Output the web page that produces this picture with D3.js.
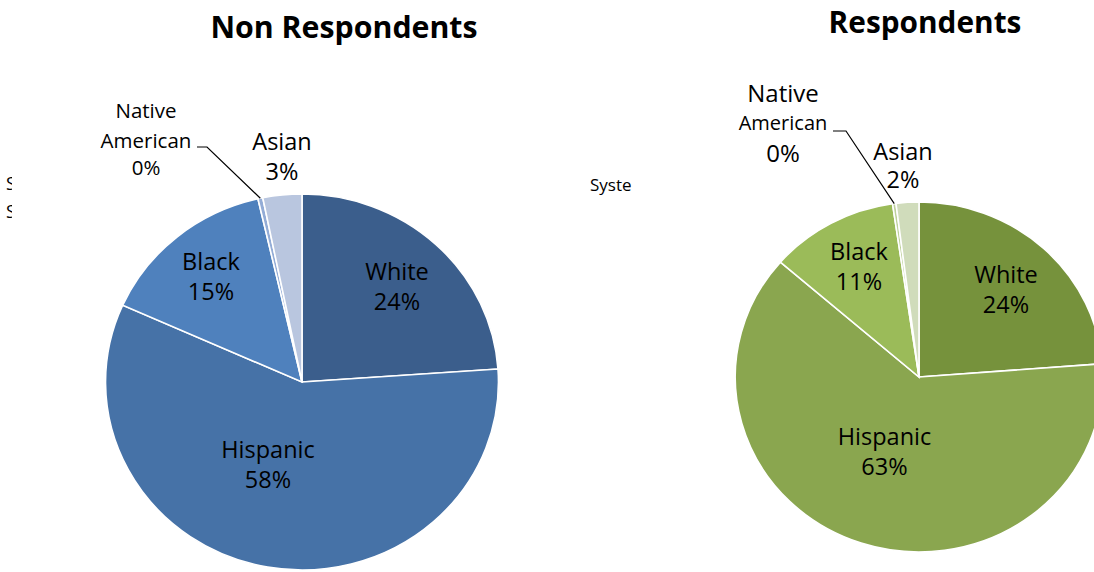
<!DOCTYPE html>
<html>
<head>
<meta charset="utf-8">
<script src="https://cdn.jsdelivr.net/npm/d3@7"></script>
<style>
  html, body { margin: 0; padding: 0; background: #fff; }
  svg { display: block; }
  text { font-family: "Open Sans", Lato, sans-serif; fill: #000; }
</style>
</head>
<body>
<svg id="chart" width="1094" height="572"></svg>
<script>
// Ethnic breakdown, percent of each group
const categories = ["White", "Hispanic", "Black", "Native American", "Asian"];
const nonRespondents = [23.9, 57.8, 14.7, 0.4, 3.2];
const respondents = [23.8, 62.6, 11.3, 0.3, 2.0];

const blueShades = ["#3b5e8c", "#4672a7", "#4f81bd", "#93acd6", "#b9c6df"];
const greenShades = ["#76923c", "#8aa64f", "#9bbb59", "#bdd09a", "#d0dcbb"];

const svg = d3.select("#chart");

// Side captions cut off by neighbouring text boxes
const defs = svg.append("defs");
defs.append("clipPath").attr("id", "clipLeft")
  .append("rect").attr("x", 0).attr("y", 0).attr("width", 12).attr("height", 572);
const leftFrag = svg.append("g").attr("clip-path", "url(#clipLeft)");
leftFrag.append("text").attr("x", 6).attr("y", 190).attr("font-size", 18).text("System");
leftFrag.append("text").attr("x", 6).attr("y", 218).attr("font-size", 18).text("System");
svg.append("text").attr("x", 590).attr("y", 191).attr("font-size", 17).text("Syste");

const pie = d3.pie().sort(null).value(d => d);
const fmt = v => Math.round(v) + "%";

function drawPie(cfg) {
  const { values, colors, cx, cy, r, sx, title, labels, native } = cfg;
  const arcs = pie(values);
  const arc = d3.arc().innerRadius(0).outerRadius(r);

  // slightly widened disc
  const g = svg.append("g").attr("transform", `translate(${cx},${cy}) scale(${sx},1)`);
  g.selectAll("path").data(arcs).join("path")
    .attr("d", arc)
    .attr("fill", (d, i) => colors[i])
    .attr("stroke", "#fff")
    .attr("stroke-width", 1.6)
    .attr("vector-effect", "non-scaling-stroke");

  svg.append("text")
    .attr("x", title.x).attr("y", title.y)
    .attr("text-anchor", "middle")
    .attr("font-weight", "bold")
    .attr("font-size", title.size)
    .text(title.text);

  // slice labels: name line(s) then rounded percentage
  labels.forEach(l => {
    const i = categories.indexOf(l.cat);
    const t = svg.append("text").attr("text-anchor", "middle");
    const lines = (l.lines || [l.cat]).concat([fmt(values[i])]);
    lines.forEach((s, k) => {
      t.append("tspan")
        .attr("x", cx + l.dx)
        .attr("y", cy + l.ys[k])
        .attr("font-size", (l.sizes && l.sizes[k]) || l.size)
        .text(s);
    });
  });

  // leader line for the thin Native American slice
  const a = arcs[categories.indexOf("Native American")];
  const mid = (a.startAngle + a.endAngle) / 2;
  const ex = cx + Math.sin(mid) * r * sx;
  const ey = cy - Math.cos(mid) * r;
  svg.append("polyline")
    .attr("points", [[cx + native.x0, cy + native.y], [cx + native.x1, cy + native.y], [ex, ey]].map(p => p.join(",")).join(" "))
    .attr("fill", "none")
    .attr("stroke", "#000")
    .attr("stroke-width", 1.2);
}

drawPie({
  values: nonRespondents, colors: blueShades,
  cx: 302, cy: 382, r: 188, sx: 1.045,
  title: { text: "Non Respondents", x: 344, y: 38, size: 30.3 },
  labels: [
    { cat: "White", dx: 95, ys: [-102, -72], size: 23.5 },
    { cat: "Black", dx: -91, ys: [-112, -82], size: 23.5 },
    { cat: "Hispanic", dx: -34, ys: [75.7, 106.3], size: 23.5 },
    { cat: "Asian", dx: -20, ys: [-232, -202], size: 23.5 },
    { cat: "Native American", lines: ["Native", "American"], dx: -156, ys: [-263.7, -233.7, -207], size: 20.5 }
  ],
  native: { x0: -105, x1: -95, y: -235 }
});

drawPie({
  values: respondents, colors: greenShades,
  cx: 919, cy: 377, r: 175, sx: 1.05,
  title: { text: "Respondents", x: 925, y: 33, size: 29.8 },
  labels: [
    { cat: "White", dx: 87, ys: [-94.3, -64.3], size: 23.5 },
    { cat: "Black", dx: -60, ys: [-117, -87], size: 23.5 },
    { cat: "Hispanic", dx: -34.5, ys: [68, 98], size: 23.5 },
    { cat: "Asian", dx: -16, ys: [-217, -188.7], size: 23.5 },
    { cat: "Native American", lines: ["Native", "American"], dx: -136, ys: [-275.3, -247, -215.3], sizes: [24, 20, 24], size: 24 }
  ],
  native: { x0: -86, x1: -73, y: -246 }
});
</script>
</body>
</html>
